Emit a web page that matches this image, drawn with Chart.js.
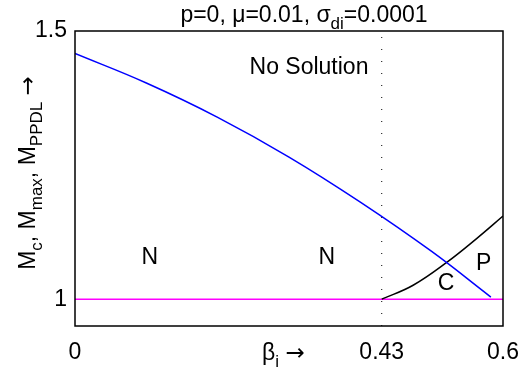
<!DOCTYPE html>
<html>
<head>
<meta charset="utf-8">
<script src="https://cdn.jsdelivr.net/npm/chart.js@4.4.1/dist/chart.umd.min.js"></script>
<style>
  html, body { margin: 0; padding: 0; background: #fff; }
  #wrap { width: 522px; height: 375px; }
</style>
</head>
<body>
<div id="wrap"><canvas id="chart"></canvas></div>
<script>
"use strict";
const FONT = '"Liberation Sans", Arial, sans-serif';
const ARROW_FONT = '"DejaVu Sans", sans-serif';
const FS = 23;

// blue curve (M_PPDL)
const blueBeta = [0, 0.1, 0.2, 0.3, 0.4, 0.5, 0.583];
const blueM = [1.458, 1.403, 1.339, 1.265, 1.181, 1.089, 1.004];

// black curve (M_c), only exists past beta = 0.43
const blackBeta = [0.43, 0.474, 0.5225, 0.563, 0.6];
const blackM = [1.0, 1.026, 1.070, 1.113, 1.155];

// magenta line (M_max)
const magentaBeta = [0, 0.6];
const magentaM = [1, 1];

// dotted boundary at beta = 0.43
const boundaryBeta = [0.43, 0.43];
const boundaryM = [0.95, 1.5];

const xTicks = [0, 0.43, 0.6];
const yTicks = [1, 1.5];

// region labels
const regionText = ['N', 'N', 'No Solution', 'C', 'P'];
const regionBeta = [0.105, 0.353, 0.328, 0.520, 0.573];
const regionM = [1.080, 1.080, 1.435, 1.032, 1.069];

function toPoints(xs, ys) {
    return xs.map((x, i) => ({ x: x, y: ys[i] }));
}

// parts are [text, kind]: kind 0 normal, 1 subscript, 2 arrow
function partFont(kind, size) {
    if (kind === 1) return Math.round(size * 0.72) + 'px ' + FONT;
    if (kind === 2) return size + 'px ' + ARROW_FONT;
    return size + 'px ' + FONT;
}
function richWidth(ctx, parts, size) {
    let w = 0;
    parts.forEach(p => {
        ctx.font = partFont(p[1], size);
        w += ctx.measureText(p[0]).width;
    });
    return w;
}
function drawRich(ctx, parts, x, y, size) {
    parts.forEach(p => {
        ctx.font = partFont(p[1], size);
        ctx.fillText(p[0], x, p[1] === 1 ? y + size * 0.3 : y);
        x += ctx.measureText(p[0]).width;
    });
}

const titleParts = [['p=0, \u03bc=0.01, \u03c3', 0], ['di', 1], ['=0.0001', 0]];
const xLabelParts = [['\u03b2', 0], ['i', 1], [' ', 0], ['\u2192', 2]];
const yLabelParts = [['M', 0], ['c', 1], [', M', 0], ['max', 1], [', M', 0], ['PPDL', 1], [' ', 0], ['\u2192', 2]];

const annotate = {
    id: 'annotate',
    afterDraw(chart) {
        const ctx = chart.ctx;
        const a = chart.chartArea;
        const xs = chart.scales.x, ys = chart.scales.y;
        ctx.save();
        // axes box
        ctx.strokeStyle = '#000';
        ctx.lineWidth = 1.5;
        ctx.strokeRect(a.left, a.top, a.right - a.left, a.bottom - a.top);

        ctx.fillStyle = '#000';
        ctx.textBaseline = 'alphabetic';
        ctx.textAlign = 'left';

        // region labels
        ctx.font = FS + 'px ' + FONT;
        regionText.forEach((t, i) => {
            const w = ctx.measureText(t).width;
            ctx.fillText(t, xs.getPixelForValue(regionBeta[i]) - w / 2,
                ys.getPixelForValue(regionM[i]) + 8);
        });

        // title
        const tw = richWidth(ctx, titleParts, FS);
        drawRich(ctx, titleParts, 304 - tw / 2, a.top - 9, FS);

        // x label
        drawRich(ctx, xLabelParts, a.left + 187, a.bottom + 34, FS);

        // y label, rotated
        const yw = richWidth(ctx, yLabelParts, FS);
        ctx.translate(35, 173);
        ctx.rotate(-Math.PI / 2);
        drawRich(ctx, yLabelParts, -yw / 2, 0, FS);
        ctx.restore();
    }
};

const ctx = document.getElementById('chart').getContext('2d');
new Chart(ctx, {
    type: 'scatter',
    data: {
        datasets: [
            {
                data: toPoints(boundaryBeta, boundaryM),
                showLine: true, borderColor: '#000', borderWidth: 1,
                borderDash: [1, 11], pointRadius: 0
            },
            {
                data: toPoints(blueBeta, blueM),
                showLine: true, borderColor: '#0000ff', borderWidth: 1.5,
                tension: 0.4, pointRadius: 0
            },
            {
                data: toPoints(blackBeta, blackM),
                showLine: true, borderColor: '#000', borderWidth: 1.5,
                tension: 0.4, pointRadius: 0
            },
            {
                data: toPoints(magentaBeta, magentaM),
                showLine: true, borderColor: '#ff00ff', borderWidth: 1.5,
                pointRadius: 0
            }
        ]
    },
    options: {
        responsive: true,
        maintainAspectRatio: false,
        animation: false,
        events: [],
        layout: { padding: { top: 31, right: 19, left: 0, bottom: 0 } },
        plugins: { legend: { display: false }, tooltip: { enabled: false }, title: { display: false } },
        scales: {
            x: {
                type: 'linear', min: 0, max: 0.6,
                grid: { display: false, drawTicks: false },
                border: { display: false },
                afterBuildTicks: s => { s.ticks = xTicks.map(v => ({ value: v })); },
                afterFit: s => { s.height = 49; s.paddingLeft = 0; s.paddingRight = 0; },
                ticks: {
                    color: '#000', padding: 13, maxRotation: 0, autoSkip: false,
                    font: { family: FONT, size: FS },
                    callback: v => String(v)
                }
            },
            y: {
                type: 'linear', min: 0.95, max: 1.5,
                grid: { display: false, drawTicks: false },
                border: { display: false },
                afterBuildTicks: s => { s.ticks = yTicks.map(v => ({ value: v })); },
                afterFit: s => { s.width = 75; s.paddingTop = 0; s.paddingBottom = 0; },
                ticks: {
                    color: '#000', padding: 8, autoSkip: false,
                    font: { family: FONT, size: FS },
                    callback: v => String(v)
                }
            }
        }
    },
    plugins: [annotate]
});
</script>
</body>
</html>
